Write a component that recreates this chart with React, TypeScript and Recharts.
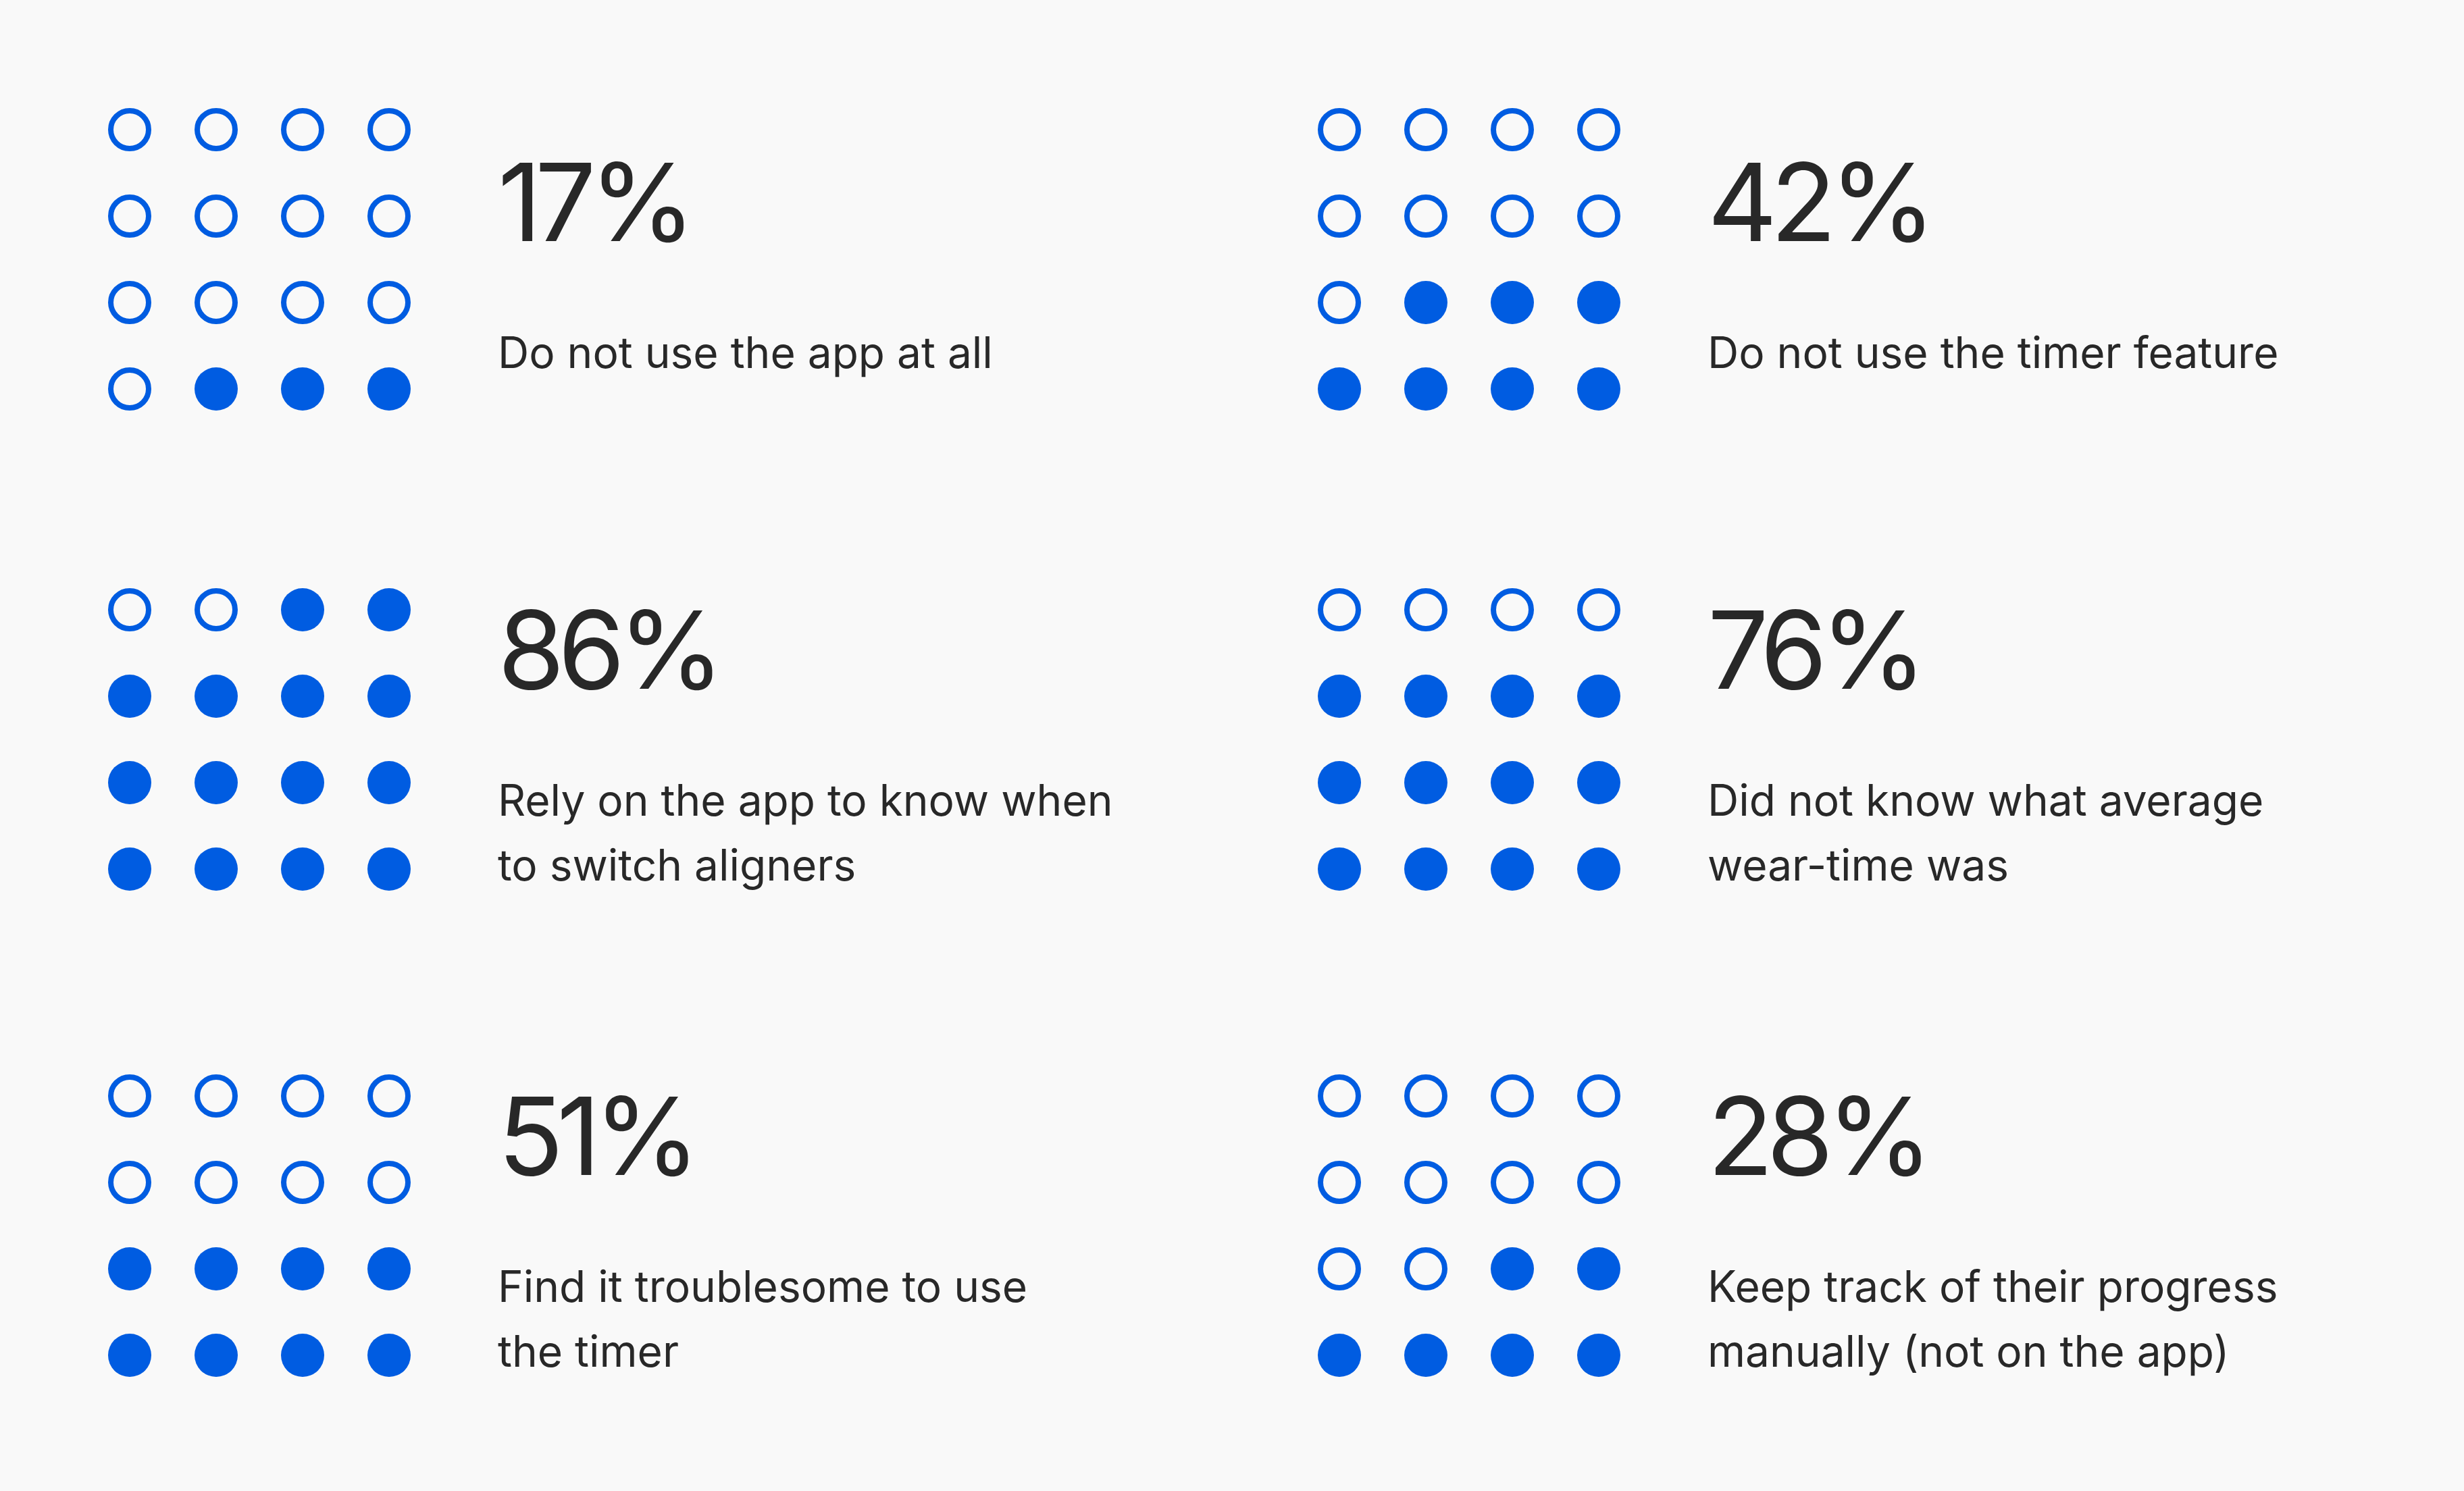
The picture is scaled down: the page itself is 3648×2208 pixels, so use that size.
import React from "react";
import { ScatterChart, Scatter, XAxis, YAxis } from "recharts";

// ---- data ----
const percentages = [17, 42, 86, 76, 51, 28];
const filledDots = [3, 7, 14, 12, 8, 6];
const labelLines: string[][] = [
  ["Do not use the app at all"],
  ["Do not use the timer feature"],
  ["Rely on the app to know when", "to switch aligners"],
  ["Did not know what average", "wear-time was"],
  ["Find it troublesome to use", "the timer"],
  ["Keep track of their progress", "manually (not on the app)"],
];
const gridColumns = [0, 1, 2, 3];
const gridRows = [0, 1, 2, 3];

// ---- styling / layout ----
const BLUE = "#005CE1";
const TEXT = "#282828";
const BG = "#F9F9F9";
const FONT = "Inter, 'Noto Sans', sans-serif";
const PANEL_CENTER_X = [192, 1983];
const PANEL_CENTER_Y = [192, 903, 1623];
const CELL = 128;
const GRID_SIZE = CELL * gridColumns.length;

type Dot = { col: number; row: number; filled: boolean };

function buildDots(panel: number): Dot[] {
  const total = gridColumns.length * gridRows.length;
  const out: Dot[] = [];
  gridRows.forEach((row) => {
    gridColumns.forEach((col) => {
      const idx = row * gridColumns.length + col;
      out.push({ col, row, filled: idx >= total - filledDots[panel] });
    });
  });
  return out;
}

const DotShape = (props: any) => {
  const { cx, cy, payload } = props;
  if (payload && payload.filled) {
    return <circle cx={cx} cy={cy} r={32} fill={BLUE} />;
  }
  return <circle cx={cx} cy={cy} r={28} fill="none" stroke={BLUE} strokeWidth={8} />;
};

function Panel({ index }: { index: number }) {
  const pc = index % 2;
  const pr = Math.floor(index / 2);
  const cx0 = PANEL_CENTER_X[pc];
  const cy0 = PANEL_CENTER_Y[pr];
  const lines = labelLines[index];
  const pctTop = cy0 + 26.6 - 48 * (lines.length - 1);
  const textLeft = cx0 + 545;
  return (
    <>
      <div style={{ position: "absolute", left: cx0 - CELL / 2, top: cy0 - CELL / 2 }}>
        <ScatterChart width={GRID_SIZE} height={GRID_SIZE} margin={{ top: 0, right: 0, bottom: 0, left: 0 }}>
          <XAxis type="number" dataKey="col" domain={[-0.5, 3.5]} hide />
          <YAxis type="number" dataKey="row" domain={[-0.5, 3.5]} reversed hide />
          <Scatter data={buildDots(index)} shape={DotShape} isAnimationActive={false} />
        </ScatterChart>
      </div>
      <div
        style={{
          position: "absolute",
          left: textLeft,
          top: pctTop,
          fontFamily: FONT,
          fontSize: 160,
          lineHeight: "160px",
          letterSpacing: "-10px",
          color: TEXT,
          whiteSpace: "nowrap",
        }}
      >
        {percentages[index]}%
      </div>
      <div
        style={{
          position: "absolute",
          left: textLeft,
          top: pctTop + 160 + 95,
          fontFamily: FONT,
          fontSize: 64,
          lineHeight: "96px",
          color: TEXT,
          whiteSpace: "nowrap",
        }}
      >
        {lines.map((l, i) => (
          <div key={i}>{l}</div>
        ))}
      </div>
    </>
  );
}

export default function App() {
  return (
    <div style={{ position: "relative", width: 3648, height: 2208, background: BG, overflow: "hidden" }}>
      <style>{`html,body{margin:0;padding:0;background:${BG};}`}</style>
      {percentages.map((_, i) => (
        <Panel key={i} index={i} />
      ))}
    </div>
  );
}
